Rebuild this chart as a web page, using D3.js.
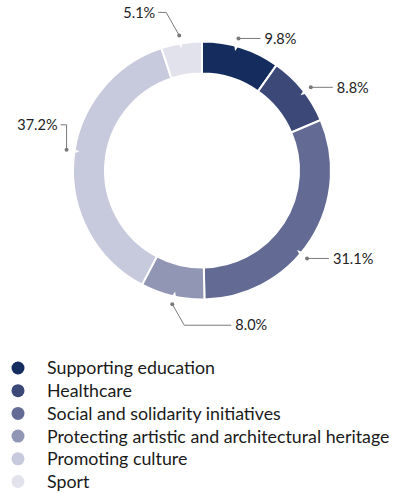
<!DOCTYPE html>
<html>
<head>
<meta charset="utf-8">
<script src="https://cdn.jsdelivr.net/npm/d3@7"></script>
<style>
  html, body { margin: 0; padding: 0; background: #fff; }
  svg { display: block; font-family: Lato, "Noto Sans", sans-serif; }
</style>
</head>
<body>
<svg id="chart" width="398" height="494"></svg>
<script>
// Share of contributions by area
const categories = [
  "Supporting education",
  "Healthcare",
  "Social and solidarity initiatives",
  "Protecting artistic and architectural heritage",
  "Promoting culture",
  "Sport"
];
const shares = [9.8, 8.8, 31.1, 8.0, 37.2, 5.1];
const shareLabels = ["9.8%", "8.8%", "31.1%", "8.0%", "37.2%", "5.1%"];
const colours = ["#142d5e", "#3b4878", "#636b95", "#9196b4", "#c7c9dc", "#e1e2ec"];

// label leader layout: angular nudge (deg) of the anchor, elbow offset, horizontal run
const leaderNudge = [-2.2, 1.5, 7, -0.8, 4, -0.4];
const leaderBend = [[0, 0], [0, 0], [0, 0], [12, 21], [0, -25], [-13, -23]];
const leaderRun  = [22, 22, 22, 47, -6, -8];

const svg = d3.select("#chart");
const cx = 202, cy = 170.5, rOuter = 129, rInner = 97;

const pie = d3.pie().sort(null).value(d => d)(shares);
const arc = d3.arc().innerRadius(rInner).outerRadius(rOuter);
const color = d3.scaleOrdinal().domain(categories).range(colours);

const g = svg.append("g").attr("transform", `translate(${cx},${cy})`);

g.selectAll("path.slice")
  .data(pie)
  .join("path")
  .attr("class", "slice")
  .attr("d", arc)
  .attr("fill", (d, i) => color(categories[i]))
  .attr("stroke", "#fff")
  .attr("stroke-width", 2);

const polar = (a, r) => [r * Math.sin(a), -r * Math.cos(a)];
const anchor = (d, i) => (d.startAngle + d.endAngle) / 2 + leaderNudge[i] * Math.PI / 180;

// small white pointer notch on the outer rim of each slice
g.selectAll("path.notch")
  .data(pie)
  .join("path")
  .attr("class", "notch")
  .attr("fill", "#fff")
  .attr("d", (d, i) => {
    const a = anchor(d, i), da = 0.018;
    const p1 = polar(a - da, rOuter + 1);
    const p2 = polar(a + da, rOuter + 1);
    const p3 = polar(a, rOuter - 5);
    return `M${p1}L${p3}L${p2}Z`;
  });

// leaders and value labels
const labels = g.selectAll("g.lab")
  .data(pie)
  .join("g")
  .attr("class", "lab");

labels.each(function (d, i) {
  const sel = d3.select(this);
  const a = anchor(d, i);
  const p0 = polar(a, rOuter + 8);
  const p1 = [p0[0] + leaderBend[i][0], p0[1] + leaderBend[i][1]];
  const p2 = [p1[0] + leaderRun[i], p1[1]];
  const right = leaderRun[i] > 0;
  sel.append("path")
    .attr("d", `M${p0}L${p1}L${p2}`)
    .attr("fill", "none")
    .attr("stroke", "#7a7a7a")
    .attr("stroke-width", 1);
  sel.append("circle")
    .attr("cx", p0[0]).attr("cy", p0[1]).attr("r", 2)
    .attr("fill", "#7a7a7a");
  sel.append("text")
    .attr("x", p2[0] + (right ? 4 : -3))
    .attr("y", p2[1])
    .attr("dy", "0.36em")
    .attr("text-anchor", right ? "start" : "end")
    .attr("font-size", 14.5)
    .attr("fill", "#222")
    .text(shareLabels[i]);
});

// legend
const legendY = d3.scalePoint().domain(categories).range([368, 481.5]);
const legend = svg.append("g").selectAll("g")
  .data(categories)
  .join("g")
  .attr("transform", d => `translate(0,${legendY(d)})`);

legend.append("circle")
  .attr("cx", 18).attr("cy", 0).attr("r", 6.5)
  .attr("fill", d => color(d));

legend.append("text")
  .attr("x", 47).attr("y", 0).attr("dy", "0.36em")
  .attr("font-size", 17.8)
  .attr("fill", "#1a1a1a")
  .text(d => d);
</script>
</body>
</html>
